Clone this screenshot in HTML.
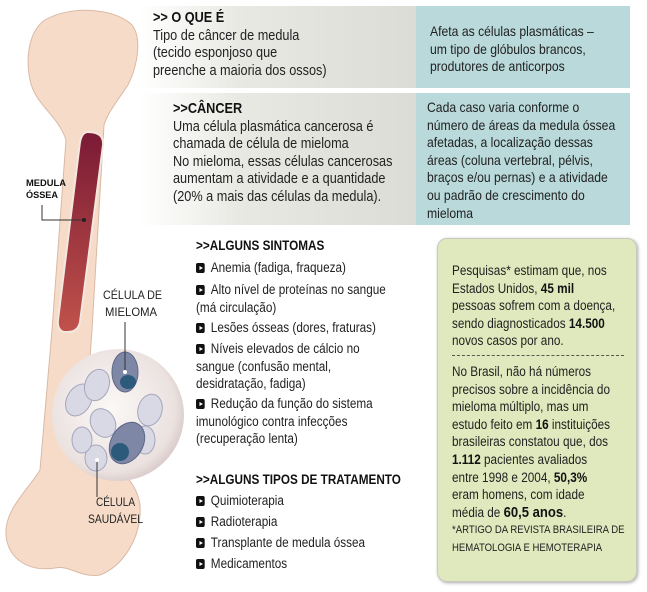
<!DOCTYPE html>
<html><head><meta charset="utf-8"><style>
body{margin:0;width:647px;height:592px;background:#fff;position:relative;overflow:hidden;font-family:"Liberation Sans",sans-serif;color:#222;}
.a{position:absolute;white-space:nowrap;font-size:13.5px;line-height:17.6px;transform:scaleX(0.87);transform-origin:0 0;}
.t{font-size:14.6px}
.t2{font-size:14px}
b{color:#111}
.h{font-weight:bold;color:#111}
.bl{display:inline-block;width:10px;height:10px;background:#111;border-radius:2px;position:relative;margin-right:7px;vertical-align:-1px}
.bl:after{content:"";position:absolute;left:3.5px;top:2.5px;border-left:4px solid #fff;border-top:2.5px solid transparent;border-bottom:2.5px solid transparent}
svg text{font-family:"Liberation Sans",sans-serif}
</style></head><body>
<div style="position:absolute;left:140px;top:6px;width:276px;height:82px;background:linear-gradient(90deg,#fff 0%,#e9e9e4 35%,#dcdcd6 100%)"></div>
<div style="position:absolute;left:416px;top:6px;width:214px;height:82px;background:#b9d9db"></div>
<div style="position:absolute;left:140px;top:93px;width:276px;height:132px;background:linear-gradient(90deg,#fff 0%,#e9e9e4 35%,#dcdcd6 100%)"></div>
<div style="position:absolute;left:416px;top:93px;width:214px;height:132px;background:#b9d9db"></div>
<div style="position:absolute;left:437px;top:238px;width:198px;height:342px;background:#dfe9bd;border:1.5px solid #c8c8c0;border-radius:10px;box-shadow:1px 1px 3px #aaa"></div>

<svg style="position:absolute;left:0;top:0" width="200" height="592">
<defs>
<linearGradient id="m" x1="0" y1="0" x2="0" y2="1"><stop offset="0" stop-color="#7a1a35"/><stop offset="1" stop-color="#c0524a"/></linearGradient>
<radialGradient id="c" cx=".45" cy=".45" r=".6"><stop offset="0" stop-color="#fbf8f6"/><stop offset=".8" stop-color="#ebe2e0"/><stop offset="1" stop-color="#d3c4c2"/></radialGradient>
</defs>
<path d="M45,20 C70,5 115,8 132,25 C142,38 138,65 128,85 C118,100 108,112 104,125 L92,330 L84,440 C100,460 135,470 140,505 C142,535 125,565 100,575 C80,578 70,565 55,568 C30,572 8,560 6,535 C4,510 28,490 40,470 L52,330 L66,140 C58,115 35,105 30,80 C25,55 30,30 45,20 Z" fill="#f6dcc8" stroke="#d9b9a5" stroke-width="1"/>
<path d="M88,132 Q104,132 103,145 L80,322 Q78,332 68,332 L64,332 Q57,330 58,320 L80,142 Q82,132 88,132 Z" fill="url(#m)" stroke="#f3e8e0" stroke-width="2"/>
<circle cx="118" cy="415" r="66" fill="url(#c)"/>
<g fill="#d9d9e6" stroke="#a5a6bb" stroke-width="1">
<ellipse cx="79" cy="400" rx="12" ry="17" transform="rotate(30 79 400)"/>
<ellipse cx="97" cy="385" rx="12" ry="16" transform="rotate(20 97 385)"/>
<ellipse cx="103" cy="423" rx="12" ry="15" transform="rotate(-30 103 423)"/>
<ellipse cx="96" cy="458" rx="11" ry="13"/>
<ellipse cx="150" cy="410" rx="12" ry="16" transform="rotate(15 150 410)"/>
<ellipse cx="145" cy="440" rx="10" ry="14"/>
<ellipse cx="82" cy="440" rx="10" ry="13"/>
</g>
<ellipse cx="125" cy="372" rx="13" ry="20" fill="#7e87a6" stroke="#5f6788"/>
<ellipse cx="128" cy="382" rx="8" ry="7" fill="#2c5a7a"/>
<ellipse cx="127" cy="443" rx="16" ry="22" transform="rotate(30 127 443)" fill="#7e87a6" stroke="#5f6788"/>
<ellipse cx="120" cy="452" rx="9" ry="9" fill="#2c5a7a"/>
<g stroke="#333" fill="none" stroke-width="1"><path d="M42,205 V220 H84"/><path d="M125,322 V372"/><path d="M97,460 V497"/></g>
<circle cx="84" cy="220" r="2" fill="#222"/><circle cx="125" cy="372" r="2" fill="#fff"/><circle cx="97" cy="460" r="2" fill="#fff"/>
<text x="26" y="186" font-size="9.5" font-weight="bold" fill="#111" textLength="40" lengthAdjust="spacingAndGlyphs">MEDULA</text>
<text x="26" y="198" font-size="9.5" font-weight="bold" fill="#111" textLength="32" lengthAdjust="spacingAndGlyphs">ÓSSEA</text>
<text x="103" y="299" font-size="12" fill="#222" textLength="59" lengthAdjust="spacingAndGlyphs">CÉLULA DE</text>
<text x="105" y="316" font-size="12" fill="#222" textLength="52" lengthAdjust="spacingAndGlyphs">MIELOMA</text>
<text x="96" y="506" font-size="12" fill="#222" textLength="39" lengthAdjust="spacingAndGlyphs">CÉLULA</text>
<text x="88" y="523" font-size="12" fill="#222" textLength="55" lengthAdjust="spacingAndGlyphs">SAUDÁVEL</text>
</svg>

<div class="a t" style="left:153px;top:10px"><span class="h">&gt;&gt; O QUE É</span><br>Tipo de câncer de medula<br>(tecido esponjoso que<br>preenche a maioria dos ossos)</div>
<div class="a t2" style="left:430px;top:23px">Afeta as células plasmáticas –<br>um tipo de glóbulos brancos,<br>produtores de anticorpos</div>
<div class="a t" style="left:173px;top:101px"><span class="h">&gt;&gt;CÂNCER</span><br>Uma célula plasmática cancerosa é<br>chamada de célula de mieloma<br>No mieloma, essas células cancerosas<br>aumentam a atividade e a quantidade<br>(20% a mais das células da medula).</div>
<div class="a t2" style="left:427px;top:99px">Cada caso varia conforme o<br>número de áreas da medula óssea<br>afetadas, a localização dessas<br>áreas (coluna vertebral, pélvis,<br>braços e/ou pernas) e a atividade<br>ou padrão de crescimento do<br>mieloma</div>

<div class="a h" style="left:196px;top:237px">&gt;&gt;ALGUNS SINTOMAS</div>
<div class="a" style="left:196px;top:259px"><span class="bl"></span>Anemia (fadiga, fraqueza)</div>
<div class="a" style="left:196px;top:281px"><span class="bl"></span>Alto nível de proteínas no sangue<br>(má circulação)</div>
<div class="a" style="left:196px;top:319px"><span class="bl"></span>Lesões ósseas (dores, fraturas)</div>
<div class="a" style="left:196px;top:340px"><span class="bl"></span>Níveis elevados de cálcio no<br>sangue (confusão mental,<br>desidratação, fadiga)</div>
<div class="a" style="left:196px;top:395px"><span class="bl"></span>Redução da função do sistema<br>imunológico contra infecções<br>(recuperação lenta)</div>
<div class="a h" style="left:196px;top:471px">&gt;&gt;ALGUNS TIPOS DE TRATAMENTO</div>
<div class="a" style="left:196px;top:492px"><span class="bl"></span>Quimioterapia</div>
<div class="a" style="left:196px;top:513px"><span class="bl"></span>Radioterapia</div>
<div class="a" style="left:196px;top:534px"><span class="bl"></span>Transplante de medula óssea</div>
<div class="a" style="left:196px;top:555px"><span class="bl"></span>Medicamentos</div>

<div class="a" style="left:452px;top:262px">Pesquisas* estimam que, nos<br>Estados Unidos, <b>45 mil</b><br>pessoas sofrem com a doença,<br>sendo diagnosticados <b>14.500</b><br>novos casos por ano.</div>
<div style="position:absolute;left:452px;top:355px;width:172px;border-top:1px dashed #555"></div>
<div class="a" style="left:452px;top:363px">No Brasil, não há números<br>precisos sobre a incidência do<br>mieloma múltiplo, mas um<br>estudo feito em <b>16</b> instituições<br>brasileiras constatou que, dos<br><b>1.112</b> pacientes avaliados<br>entre 1998 e 2004, <b>50,3%</b><br>eram homens, com idade<br>média de <b style="font-size:15px">60,5 anos</b>.</div>
<div class="a" style="left:452px;top:522px;font-size:11px;line-height:17.5px">*ARTIGO DA REVISTA BRASILEIRA DE<br>HEMATOLOGIA E HEMOTERAPIA</div>
</body></html>
